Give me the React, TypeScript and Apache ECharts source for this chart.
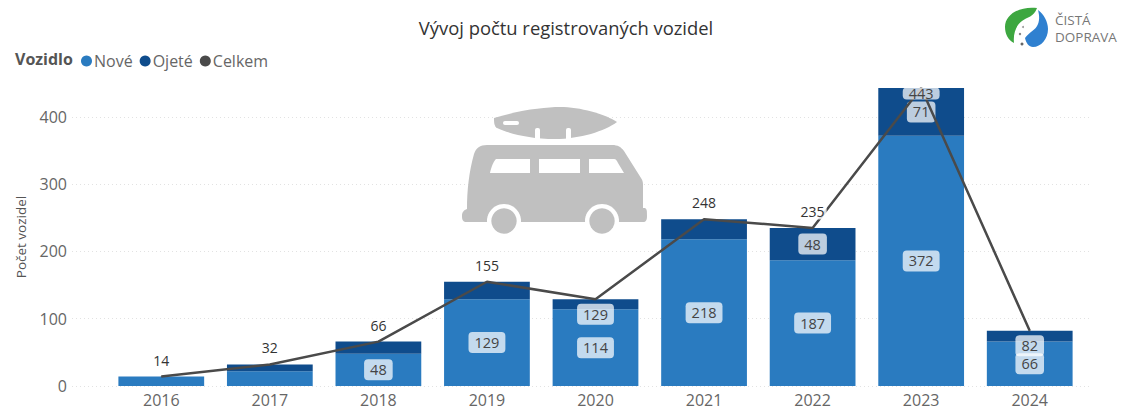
import React, { useEffect, useRef } from "react";
import * as echarts from "echarts";

const years = ["2016", "2017", "2018", "2019", "2020", "2021", "2022", "2023", "2024"];
const nove = [14, 22, 48, 129, 114, 218, 187, 372, 66];
const ojete = [0, 10, 18, 26, 15, 30, 48, 71, 16];
const celkem = [14, 32, 66, 155, 129, 248, 235, 443, 82];
const noveLabelled = [false, false, true, true, true, true, true, true, true];
const ojeteLabelled = [false, false, false, false, false, false, true, true, false];
const celkemPill = [false, false, false, false, true, false, false, true, true];
const yTop = 443;
const FONT = "'Open Sans', 'Noto Sans', sans-serif";

const BLUE = "#2a7bc0";
const NAVY = "#0f4c8c";
const DARK = "#4a4a4a";
const VAN = "#c0c0c0";

const shapes: Record<string, string> = {
  vanBody:
    "M487 145 L612 145 C618 145 621 147 624 151 L641 178 C643 181 643 183 643 186 L643 208 L645 208 C647 209 647 211 647 216 C647 220 646 222 643 222 L467 222 C463 222 462 220 462 216 C462 212 464 210 467 209 C467 190 469 172 474 154 C476 148 480 145 487 145 Z",
  vanBoard:
    "M494 118 C520 110 545 107 560 107 C580 107 605 114 617 122 C605 131 580 139 555 139 C530 139 510 134 497 128 C494 126 494 122 494 118 Z",
  vanWinA: "M496 159 L530 159 L530 173 L490 173 C491 168 493 162 496 159 Z",
  vanWinB: "M539 159 L580 159 L580 173 L539 173 Z",
  vanWinC: "M589 159 L614 159 C616 159 617 161 618 163 L624 173 L589 173 Z",
  logoLeaf:
    "M1037 8 C1020 6 1005 14 1005 27 C1005 34 1008 40 1014 43 C1013 34 1016 25 1022 21 C1027 17 1034 17 1037 8 Z",
  logoDrop:
    "M1038 10 C1044 14 1048 22 1048 29 C1048 39 1041 47 1033 47 C1029 47 1026 43 1025 38 C1029 32 1036 30 1038 24 C1040 19 1039 14 1038 10 Z",
};
Object.entries(shapes).forEach(([name, d]) => {
  echarts.graphic.registerShape(name, echarts.graphic.extendPath(d, {}) as any);
});

const pill = {
  show: true,
  color: "#444",
  fontFamily: FONT,
  fontSize: 14.5,
  backgroundColor: "rgba(255,255,255,0.72)",
  borderRadius: 4,
  padding: [3, 6],
};

const shape = (type: string, fill: string) => ({ type, x: 0, y: 0, z: 1, style: { fill } });

export default function App() {
  const ref = useRef<HTMLDivElement>(null);
  useEffect(() => {
    const chart = echarts.init(ref.current!, undefined, { renderer: "svg" });
    chart.setOption({
      animation: false,
      title: {
        text: "Vývoj počtu registrovaných vozidel",
        left: 561,
        top: 13,
        textAlign: "center",
        textStyle: { fontFamily: FONT, fontSize: 18.4, fontWeight: "normal", color: "#333" },
      },
      legend: {
        left: 76,
        top: 48,
        icon: "circle",
        itemWidth: 11,
        itemHeight: 11,
        itemGap: 7,
        data: ["Nové", "Ojeté", "Celkem"],
        textStyle: { fontFamily: FONT, fontSize: 16, color: "#666", padding: [0, 0, 0, -3] },
      },
      grid: [
        { left: 72, right: 30, top: 88, bottom: 25 },
        { left: 107, right: 38, top: 88, bottom: 25 },
      ],
      xAxis: [
        { gridIndex: 0, type: "value", min: 0, max: 1, show: false },
        {
          gridIndex: 1,
          type: "category",
          data: years,
          axisLine: { show: false },
          axisTick: { show: false },
          axisLabel: { fontFamily: FONT, fontSize: 16, color: "#666", margin: 6 },
        },
      ],
      yAxis: [
        {
          gridIndex: 0,
          type: "value",
          min: 0,
          max: yTop,
          interval: 100,
          name: "Počet vozidel",
          nameLocation: "middle",
          nameGap: 44,
          nameTextStyle: { fontFamily: FONT, fontSize: 13.5, color: "#555" },
          axisLine: { show: false },
          axisTick: { show: false },
          axisLabel: {
            fontFamily: FONT,
            fontSize: 16,
            color: "#666",
            margin: 5,
            showMaxLabel: false,
          },
          splitLine: { show: true, showMaxLine: false, lineStyle: { color: "#e2e2e2", type: [1, 3], width: 1 } },
        },
        { gridIndex: 1, type: "value", min: 0, max: yTop, show: false, splitLine: { show: false } },
      ],
      series: [
        {
          name: "Nové",
          type: "bar",
          stack: "v",
          xAxisIndex: 1,
          yAxisIndex: 1,
          barCategoryGap: "21%",
          itemStyle: { color: BLUE },
          data: nove.map((value, i) => ({
            value,
            label: { ...pill, show: noveLabelled[i], position: "inside" },
          })),
        },
        {
          name: "Ojeté",
          type: "bar",
          stack: "v",
          xAxisIndex: 1,
          yAxisIndex: 1,
          itemStyle: { color: NAVY },
          data: ojete.map((value, i) => ({
            value,
            label: { ...pill, show: ojeteLabelled[i], position: "inside" },
          })),
        },
        {
          name: "Celkem",
          type: "line",
          xAxisIndex: 1,
          yAxisIndex: 1,
          symbol: "circle",
          symbolSize: 1,
          showSymbol: true,
          itemStyle: { color: DARK },
          lineStyle: { color: DARK, width: 2.5 },
          data: celkem.map((value, i) => ({
            value,
            label: celkemPill[i]
              ? {
                  ...pill,
                  position: "bottom",
                  distance: i === 7 ? -1 : 4,
                  lineHeight: i === 7 ? 11 : undefined,
                  padding: i === 7 ? [0, 6, 1, 6] : [3, 6],
                }
              : {
                  show: true,
                  position: "top",
                  distance: 8,
                  color: "#333",
                  fontFamily: FONT,
                  fontSize: 14,
                  backgroundColor: "rgba(255,255,255,0.8)",
                  padding: [1, 2],
                },
          })),
        },
      ],
      graphic: [
        {
          type: "text",
          left: 15,
          top: 51,
          z: 2,
          style: { text: "Vozidlo", fontFamily: FONT, fontSize: 16, fontWeight: "bold", fill: "#555" },
        },
        shape("vanBoard", VAN),
        { type: "rect", z: 2, shape: { x: 503, y: 121, width: 16, height: 4, r: 2 }, style: { fill: "#fff" } },
        { type: "rect", z: 2, shape: { x: 535, y: 128, width: 5, height: 13, r: 2 }, style: { fill: "#fff" } },
        { type: "rect", z: 2, shape: { x: 566, y: 128, width: 5, height: 13, r: 2 }, style: { fill: "#fff" } },
        shape("vanBody", VAN),
        shape("vanWinA", "#fff"),
        shape("vanWinB", "#fff"),
        shape("vanWinC", "#fff"),
        { type: "circle", z: 2, shape: { cx: 504, cy: 221, r: 17 }, style: { fill: "#fff" } },
        { type: "circle", z: 2, shape: { cx: 602, cy: 221, r: 17 }, style: { fill: "#fff" } },
        { type: "circle", z: 3, shape: { cx: 504, cy: 221, r: 12.7 }, style: { fill: VAN } },
        { type: "circle", z: 3, shape: { cx: 602, cy: 221, r: 12.7 }, style: { fill: VAN } },
        shape("logoLeaf", "#3da740"),
        shape("logoDrop", "#2f80d0"),
        { type: "circle", z: 2, shape: { cx: 1023, cy: 27, r: 1 }, style: { fill: "#9a9a9a" } },
        { type: "circle", z: 2, shape: { cx: 1020, cy: 34, r: 1.2 }, style: { fill: "#808080" } },
        { type: "circle", z: 2, shape: { cx: 1022, cy: 44, r: 1.5 }, style: { fill: "#666" } },
        {
          type: "text",
          left: 1055,
          top: 13,
          z: 2,
          style: { text: "ČISTÁ", fontFamily: FONT, fontSize: 13.5, fill: "#777" },
        },
        {
          type: "text",
          left: 1055,
          top: 30,
          z: 2,
          style: { text: "DOPRAVA", fontFamily: FONT, fontSize: 13.5, fill: "#777" },
        },
      ],
    });
    return () => chart.dispose();
  }, []);
  return <div ref={ref} style={{ position: "absolute", left: 0, top: 0, width: 1122, height: 411 }} />;
}
